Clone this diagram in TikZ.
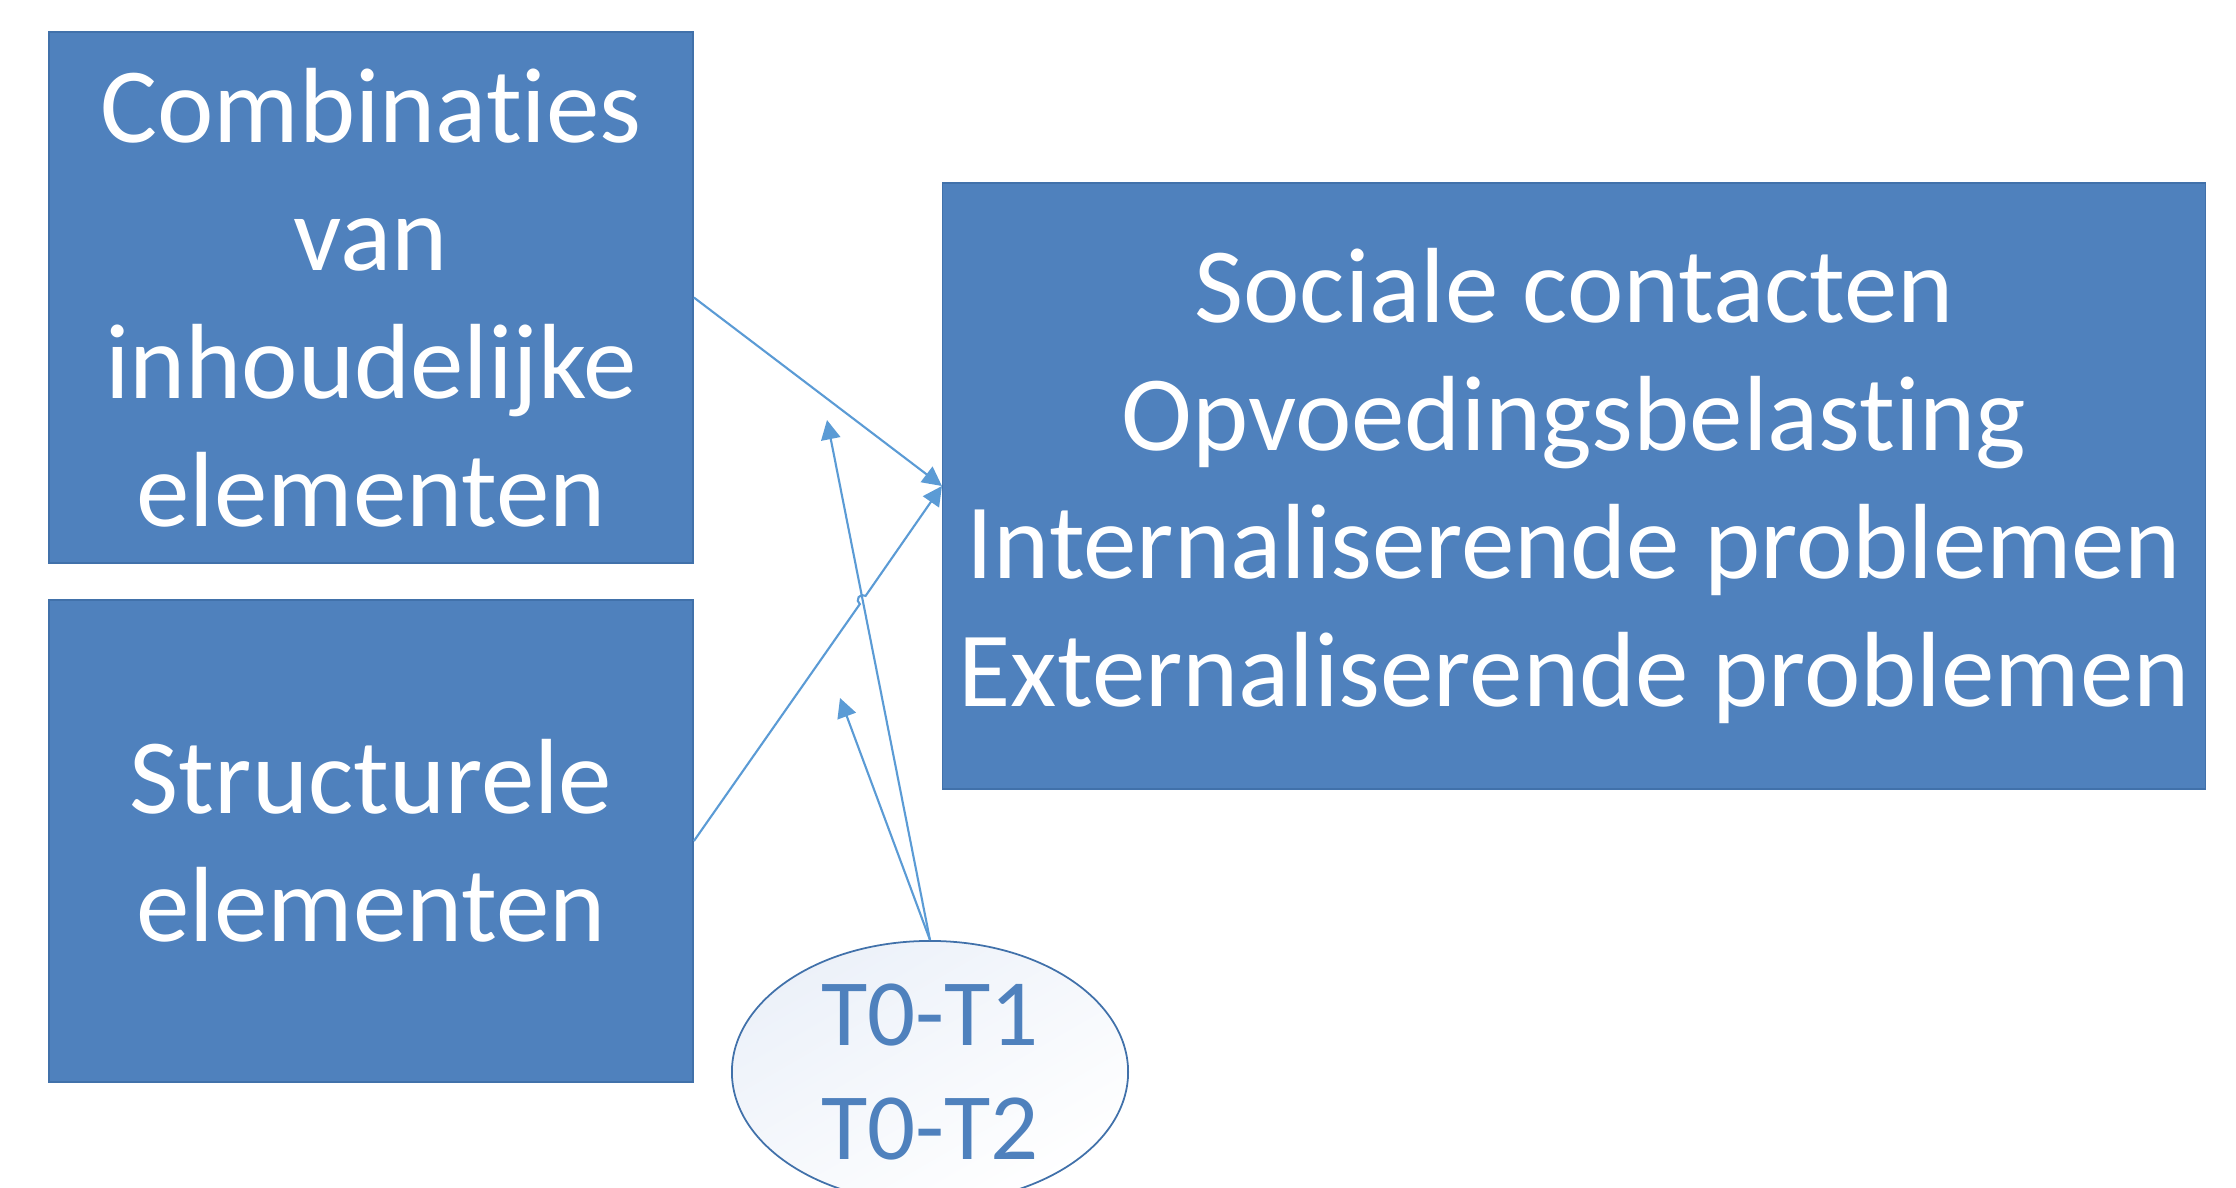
\documentclass[tikz,border=0pt]{standalone}
\usepackage{fontspec}
\setmainfont{Carlito}[Ligatures=NoCommon]
\usetikzlibrary{shapes.geometric, arrows.meta}
\definecolor{vakblauw}{RGB}{79,129,189}
\definecolor{randblauw}{RGB}{65,113,170}
\definecolor{pijlblauw}{RGB}{91,155,213}
\definecolor{ovaalvul}{RGB}{236,241,249}

\begin{document}
\begin{tikzpicture}[x=0.01cm, y=-0.01cm,
	vak/.style={draw=randblauw, line width=0.4pt, fill=vakblauw, text=white, inner sep=0pt, align=center, font=\fontsize{30.4}{36.4}\selectfont},
	pijl/.style={draw=pijlblauw, line width=0.6pt, -{Triangle[length=5.5pt, width=5.5pt]}},
	]
	\useasboundingbox (0,0) rectangle (2236,1188);
	\clip (0,0) rectangle (2236,1188);
	
	% blokken links en rechts
	\node [vak, minimum width=6.44cm, minimum height=5.31cm] (comb) at (371,297.5) {Combinaties\\van\\inhoudelijke\\elementen};
	\node [vak, minimum width=6.44cm, minimum height=4.82cm] (struct) at (371,841) {Structurele\\elementen};
	\node [vak, minimum width=12.62cm, minimum height=6.06cm] (uit) at (1574,486) {Sociale contacten\\Opvoedingsbelasting\\Internaliserende problemen\\Externaliserende problemen};
	
	% meetmomenten
	\node [ellipse, draw=randblauw, line width=0.5pt, top color=ovaalvul, bottom color=white, shading angle=30, minimum width=3.96cm, minimum height=2.62cm, inner sep=0pt, text=vakblauw, align=center, font=\fontsize{27}{32.4}\selectfont] (tijd) at (930,1072) {T0-T1\\T0-T2};
	
	\coordinate (eind1) at (827,420);
	\coordinate (eind2) at (840,698);
	\coordinate (kruis) at (862.7,600);
	
	\draw [pijl] (comb.east) -- (uit.west);
	\draw [pijl] (struct.east) -- ([shift={(234.85:0.05cm)}]kruis) arc [start angle=234.85, end angle=54.85, radius=0.05cm] -- (uit.west);
	\draw [pijl] (tijd.north) -- (eind1);
	\draw [pijl] (tijd.north) -- (eind2);
\end{tikzpicture}
\end{document}
